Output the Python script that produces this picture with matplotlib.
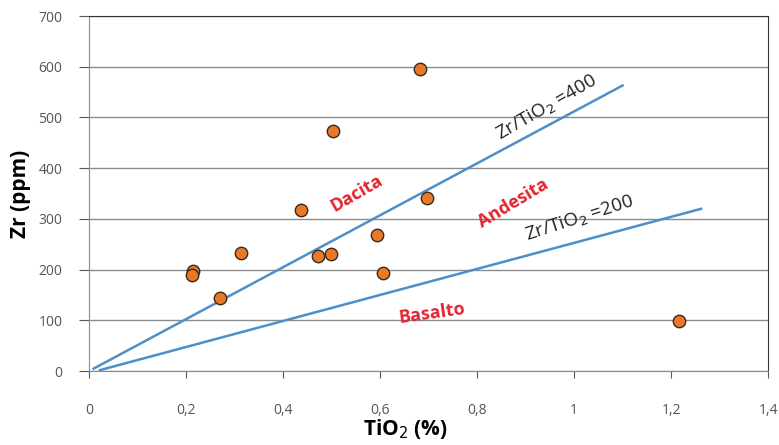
import numpy as np
import matplotlib
matplotlib.use('Agg')
import matplotlib.pyplot as plt

# Sample data
tio2 = [0.214, 0.213, 0.270, 0.313, 0.438, 0.472, 0.499, 0.504,
        0.593, 0.607, 0.683, 0.698, 1.217]
zr = [197, 190, 144, 233, 318, 227, 230, 474, 268, 194, 596, 342, 99]

# Reference lines (end points)
line400_x = [0.01, 1.10]
line400_y = [5, 563]
line200_x = [0.023, 1.262]
line200_y = [2, 320]

xticks = [0, 0.2, 0.4, 0.6, 0.8, 1.0, 1.2, 1.4]
xticklabels = ['0', '0,2', '0,4', '0,6', '0,8', '1', '1,2', '1,4']
yticks = [0, 100, 200, 300, 400, 500, 600, 700]

plt.rcParams['font.family'] = ['Open Sans', 'DejaVu Sans']

fig = plt.figure(figsize=(7.79, 4.45), dpi=100)
ax = fig.add_axes([0.114, 0.166, 0.872, 0.798])

ax.grid(axis='y', color='#8c8c8c', linewidth=1.0)
ax.set_axisbelow(True)

line_color = '#4d8fc8'
ax.plot(line400_x, line400_y, '-', color=line_color, linewidth=1.8)
ax.plot(line200_x, line200_y, '-', color=line_color, linewidth=1.8)

ax.scatter(tio2, zr, s=80, facecolor='#e8782a', edgecolor='#3a2a1a',
           linewidth=1.0, zorder=3)

# Field labels
red = '#e3242f'
ax.text(0.553, 350, 'Dacita', color=red, fontsize=13, fontweight='bold',
        rotation=30, ha='center', va='center')
ax.text(0.874, 331, 'Andesita', color=red, fontsize=13, fontweight='bold',
        rotation=31, ha='center', va='center')
ax.text(0.707, 114, 'Basalto', color=red, fontsize=13, fontweight='bold',
        rotation=8, ha='center', va='center')
ax.text(0.944, 518, 'Zr/TiO$_2$ =400', color='#222222', fontsize=13.5,
        rotation=30, ha='center', va='center')
ax.text(1.012, 300, 'Zr/TiO$_2$ =200', color='#222222', fontsize=13.5,
        rotation=18, ha='center', va='center')

ax.set_xlim(0, 1.4)
ax.set_ylim(0, 700)
ax.set_xticks(xticks)
ax.set_xticklabels(xticklabels)
ax.set_yticks(yticks)

ax.tick_params(axis='x', direction='out', length=5, pad=18,
               labelsize=10, colors='#555555')
ax.tick_params(axis='y', direction='out', length=7, pad=12,
               labelsize=10, colors='#555555')

for s in ['left', 'bottom']:
    ax.spines[s].set_color('#8c8c8c')
for s in ['top', 'right']:
    ax.spines[s].set_color('#333333')

ax.set_xlabel('TiO$_2$ (%)', fontsize=15, fontweight='bold')
ax.xaxis.set_label_coords((405 - 89) / 679.0, -0.13)
ax.set_ylabel('Zr (ppm)', fontsize=15, fontweight='bold')
ax.yaxis.set_label_coords(-0.085, 0.5)

plt.savefig('out.png', dpi=100)
